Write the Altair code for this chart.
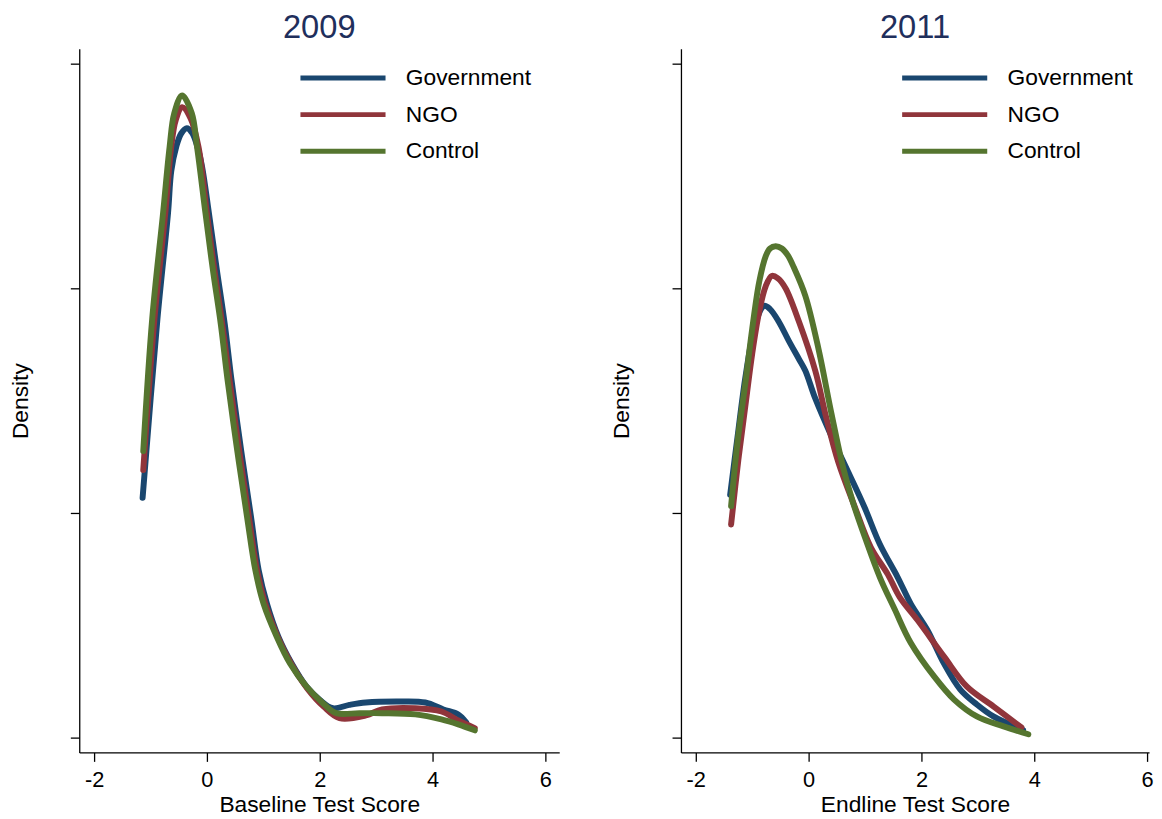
import altair as alt
import pandas as pd

groups = ["Government", "NGO", "Control"]
colors = ["#1a476f", "#90353b", "#55752f"]

# ---- 2009 (baseline) ----
gov09_x = [-1.140, -0.877, -0.689, -0.632, -0.544, -0.456, -0.356, -0.263, -0.175, -0.088, 0.035, 0.175, 0.316, 0.433, 0.609, 0.784, 0.918, 1.065, 1.268, 1.504, 1.767, 2.000, 2.233, 2.526, 2.819, 3.395, 3.872, 4.193, 4.456, 4.596]
gov09_y = [0.2133, 0.3726, 0.4670, 0.5044, 0.5259, 0.5378, 0.5425, 0.5384, 0.5271, 0.5088, 0.4670, 0.4168, 0.3681, 0.3195, 0.2549, 0.1956, 0.1487, 0.1189, 0.0894, 0.0657, 0.0451, 0.0334, 0.0259, 0.0289, 0.0310, 0.0319, 0.0310, 0.0248, 0.0204, 0.0133]

ngo09_x = [-1.128, -0.930, -0.737, -0.632, -0.553, -0.439, -0.289, -0.149, 0.000, 0.132, 0.272, 0.398, 0.574, 0.746, 0.889, 1.035, 1.254, 1.491, 1.781, 2.070, 2.351, 2.819, 3.105, 3.696, 4.158, 4.456, 4.749]
ngo09_y = [0.2381, 0.3726, 0.4670, 0.5259, 0.5496, 0.5611, 0.5513, 0.5259, 0.4670, 0.4168, 0.3681, 0.3195, 0.2549, 0.1956, 0.1487, 0.1189, 0.0894, 0.0657, 0.0434, 0.0274, 0.0171, 0.0195, 0.0248, 0.0259, 0.0230, 0.0150, 0.0082]

ctl09_x = [-1.128, -0.970, -0.777, -0.661, -0.579, -0.439, -0.268, -0.175, -0.026, 0.105, 0.246, 0.363, 0.539, 0.714, 0.860, 1.005, 1.240, 1.474, 1.767, 2.058, 2.293, 2.702, 3.105, 3.696, 4.158, 4.456, 4.749]
ctl09_y = [0.2549, 0.3726, 0.4670, 0.5259, 0.5558, 0.5717, 0.5558, 0.5259, 0.4670, 0.4168, 0.3681, 0.3195, 0.2549, 0.1956, 0.1487, 0.1189, 0.0894, 0.0657, 0.0451, 0.0304, 0.0215, 0.0215, 0.0215, 0.0204, 0.0159, 0.0115, 0.0062]

# ---- 2011 (endline) ----
gov11_x = [-1.391, -1.263, -1.111, -0.935, -0.789, -0.684, -0.526, -0.351, -0.175, -0.058, 0.118, 0.421, 0.702, 0.995, 1.263, 1.579, 1.812, 2.105, 2.398, 2.689, 2.982, 3.275, 3.802]
gov11_y = [0.2159, 0.2664, 0.3239, 0.3699, 0.3843, 0.3814, 0.3699, 0.3531, 0.3372, 0.3265, 0.3018, 0.2664, 0.2363, 0.2044, 0.1719, 0.1425, 0.1188, 0.0956, 0.0658, 0.0425, 0.0292, 0.0186, 0.0065]

ngo11_x = [-1.374, -1.246, -1.111, -1.000, -0.877, -0.760, -0.654, -0.544, -0.409, -0.175, 0.118, 0.316, 0.526, 0.825, 1.105, 1.404, 1.614, 1.930, 2.404, 2.807, 3.281, 3.772]
ngo11_y = [0.1896, 0.2469, 0.2991, 0.3416, 0.3788, 0.4018, 0.4109, 0.4088, 0.4000, 0.3708, 0.3265, 0.2841, 0.2451, 0.2044, 0.1690, 0.1451, 0.1248, 0.1044, 0.0717, 0.0451, 0.0274, 0.0088]

ctl11_x = [-1.374, -1.263, -1.111, -1.000, -0.877, -0.760, -0.684, -0.584, -0.474, -0.368, -0.263, -0.058, 0.175, 0.404, 0.614, 0.789, 1.000, 1.263, 1.526, 1.807, 2.228, 2.579, 2.982, 3.456, 3.895]
ctl11_y = [0.2059, 0.2619, 0.3195, 0.3637, 0.4053, 0.4286, 0.4354, 0.4374, 0.4354, 0.4292, 0.4186, 0.3932, 0.3460, 0.2885, 0.2398, 0.2088, 0.1779, 0.1425, 0.1140, 0.0845, 0.0540, 0.0336, 0.0186, 0.0097, 0.0027]

x_ticks = [-2, 0, 2, 4, 6]
y_ticks = [0, 0.2, 0.4, 0.6]

FONT = "Liberation Sans"
TITLE_COLOR = "#1f2f5c"


def build(series):
    rows = []
    for name, xs, ys in series:
        for xv, yv in zip(xs, ys):
            rows.append({"group": name, "score": xv, "density": yv})
    return pd.DataFrame(rows)


df09 = build([("Government", gov09_x, gov09_y), ("NGO", ngo09_x, ngo09_y), ("Control", ctl09_x, ctl09_y)])
df11 = build([("Government", gov11_x, gov11_y), ("NGO", ngo11_x, ngo11_y), ("Control", ctl11_x, ctl11_y)])


def panel(df, title, xtitle, width, xmax):
    return (
        alt.Chart(df)
        .mark_line(strokeWidth=6, strokeCap="round", strokeJoin="round", interpolate="catmull-rom")
        .encode(
            x=alt.X(
                "score:Q",
                scale=alt.Scale(domain=[-2.263, xmax], nice=False, zero=False),
                axis=alt.Axis(
                    values=x_ticks, title=xtitle, grid=False, labelFontSize=22, titleFontSize=23,
                    labelFont=FONT, titleFont=FONT, labelColor="black", titleColor="black",
                    titleFontWeight="normal", domainColor="black", tickColor="black",
                    tickSize=9, domainWidth=1.3, tickWidth=1.3, labelPadding=8, titlePadding=4,
                    labelFlush=False, labelExpr="replace(datum.label, '\u2212', '-')",
                ),
            ),
            y=alt.Y(
                "density:Q",
                scale=alt.Scale(domain=[-0.0135, 0.6132], nice=False, zero=False),
                axis=alt.Axis(
                    values=y_ticks, labels=False, title="Density", grid=False, titleFontSize=23,
                    titleFont=FONT, titleColor="black", titleFontWeight="normal",
                    domainColor="black", tickColor="black", tickSize=9, domainWidth=1.3,
                    tickWidth=1.3, titlePadding=38,
                ),
            ),
            color=alt.Color(
                "group:N",
                scale=alt.Scale(domain=groups, range=colors),
                sort=groups,
                legend=alt.Legend(
                    title=None, orient="none", legendX=253, legendY=16, symbolType="M-4,0L4,0",
                    symbolSize=462, symbolStrokeWidth=5, labelFontSize=23, labelFont=FONT,
                    labelColor="black", labelOffset=50, rowPadding=11, padding=0,
                ),
            ),
        )
        .properties(
            width=width,
            height=711,
            title=alt.TitleParams(
                title, fontSize=33, font=FONT, color=TITLE_COLOR, fontWeight="normal",
                anchor="middle", offset=4,
            ),
        )
    )


left = panel(df09, "2009", "Baseline Test Score", 485, 6.246)
right = panel(df11, "2011", "Endline Test Score", 473, 6.035)

chart = (
    alt.hconcat(left, right, spacing=52)
    .resolve_scale(color="independent")
    .resolve_legend(color="independent")
    .properties(padding={"left": 1, "top": 0, "right": 0, "bottom": 0}, background="white")
    .configure_view(stroke="transparent", strokeWidth=0)
)

chart.save("out.html", embed_options={"renderer": "svg", "actions": False})
